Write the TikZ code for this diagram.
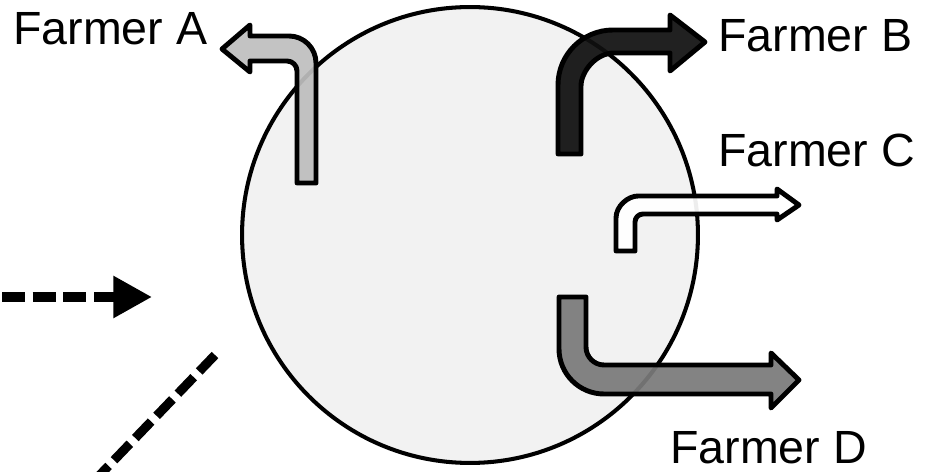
\documentclass[tikz,border=0pt]{standalone}
\usepackage{fontspec}
\setmainfont{Liberation Sans}
\usetikzlibrary{arrows.meta}
\definecolor{poolgray}{HTML}{F2F2F2}
\definecolor{farmA}{HTML}{BEBEBE}
\definecolor{farmB}{HTML}{101010}
\definecolor{farmD}{HTML}{7A7A7A}
\tikzset{
  farmer/.style={anchor=base west, inner sep=0pt, font=\fontsize{26.5}{30}\selectfont},
  bent/.style={draw=black, line width=2.8pt, line join=round, fill opacity=.93},
  inflow/.style={line width=5.2pt, dash pattern=on 13pt off 4.5pt}
}
\begin{document}
\begin{tikzpicture}[x=0.02cm, y=-0.02cm]
  \clip (0,0) rectangle (936,472);
  \node[circle, draw, line width=2.3pt, fill=poolgray, minimum size=9.12cm, inner sep=0pt] (pool) at (470,235) {};
  % bent arrows to the farmers
  \draw[bent, fill=farmA] (316,183) -- (316,63) .. controls (316,48.1) and (303.9,36) .. (289,36) -- (250,36) -- (250,25)
    -- (222,49) -- (250,72) -- (250,61) -- (287,61) .. controls (292.5,61) and (297,65.5) .. (297,71) -- (297,183) -- cycle;
  \draw[bent, fill=farmB] (558,154) -- (558,85) .. controls (558,54.6) and (582.6,30) .. (613,30) -- (670,30) -- (670,15)
    -- (705,42) -- (670,71) -- (670,53) -- (614,53) .. controls (595.8,53) and (581,71.8) .. (581,86) -- (581,154) -- cycle;
  \draw[bent, fill=white] (616,251) -- (616,218) .. controls (616,205.9) and (628.1,196) .. (638,196) -- (777,196) -- (777,189)
    -- (799,205) -- (777,220) -- (777,214) -- (643,214) .. controls (638.6,214) and (635,217.6) .. (635,222) -- (635,251) -- cycle;
  \draw[bent, fill=farmD] (559,297) -- (559,349) .. controls (559,373.8) and (579.2,394) .. (604,394) -- (771,394) -- (771,408)
    -- (799,380) -- (771,353) -- (771,365) -- (604,365) .. controls (594.1,365) and (586,356.9) .. (586,347) -- (586,297) -- cycle;
  \node[farmer] (fA) at (13,45) {Farmer A};
  \node[farmer] (fB) at (718,52) {Farmer B};
  \node[farmer] (fC) at (718,167) {Farmer C};
  \node[farmer] (fD) at (670,463) {Farmer D};
  % incoming flows
  \coordinate (rainS) at (2,297); \coordinate (rainE) at (152,297);
  \coordinate (riverS) at (215,355); \coordinate (riverE) at (96,479);
  \draw[inflow, -{Triangle[length=22pt, width=22.7pt]}] (rainS) -- (rainE);
  \draw[inflow] (riverS) -- (riverE);
\end{tikzpicture}
\end{document}
